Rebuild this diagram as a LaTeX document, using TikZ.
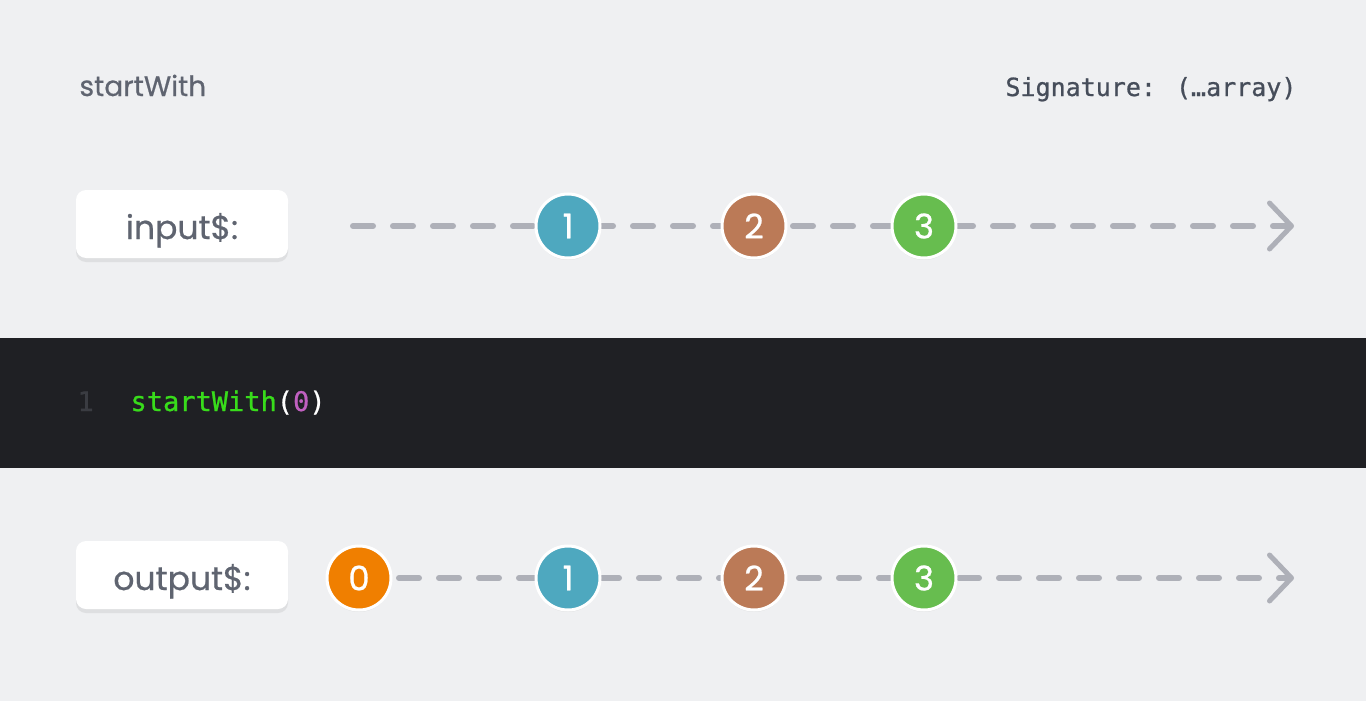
\documentclass[tikz,border=0pt]{standalone}
\usepackage{fontspec}
\usetikzlibrary{arrows.meta,shadows,backgrounds}
\newfontfamily\marblefont{Poppins}[FakeBold=0.6]
\newfontfamily\codefont{DejaVu Sans Mono}[FakeBold=0.8]
\definecolor{pagegray}{HTML}{EFF0F2}
\definecolor{bandblack}{HTML}{1F2024}
\definecolor{titlegray}{HTML}{5F6470}
\definecolor{signgray}{HTML}{464D5A}
\definecolor{linegray}{HTML}{AEB0B8}
\definecolor{marbleblue}{HTML}{4EA8BF}
\definecolor{marblebrown}{HTML}{BB7A57}
\definecolor{marblegreen}{HTML}{67BD4F}
\definecolor{marbleorange}{HTML}{F07F00}
\definecolor{codegreen}{HTML}{38DC1B}
\definecolor{codepink}{HTML}{C060C0}
\definecolor{codenum}{HTML}{3A3C42}
\pgfdeclarelayer{streams}
\pgfsetlayers{background,streams,main}
\newcommand\titlestyle{\marblefont\fontsize{28}{28}\selectfont}
\newcommand\codestyle{\codefont\fontsize{27}{27}\selectfont}
\tikzset{
  marble/.style={circle, minimum size=64pt, inner sep=0pt, draw=white, line width=3pt,
    text=white, font=\marblefont\fontsize{34}{34}\selectfont,
    drop shadow={shadow xshift=0pt, shadow yshift=-2pt, opacity=.12}},
  streamlabel/.style={rounded corners=10pt, fill=white, minimum width=212pt, minimum height=68pt,
    text height=30pt, text depth=0pt,
    text=titlegray, font=\marblefont\fontsize{33}{33}\selectfont,
    drop shadow={shadow xshift=0pt, shadow yshift=-4pt, opacity=.15}},
  streamline/.style={line width=6pt, linegray, line cap=round, dash pattern=on 20pt off 20pt},
  streamtip/.style={-{Straight Barb[length=22pt, width=46pt, line width=5pt, round]}}
}
\newcommand\marble[4]{
  \node[marble, fill=#3] (#1) at (#2) {#4};
}

\begin{document}
\begin{tikzpicture}[x=1pt, y=-1pt]
  \useasboundingbox (0,0) rectangle (1366,701);
  \begin{pgfonlayer}{background}
    \fill[pagegray] (0,0) rectangle (1366,701);
    \fill[bandblack] (0,338) rectangle (1366,468);
  \end{pgfonlayer}
  \node[anchor=base west, text=titlegray, font=\titlestyle] (title) at (76,96) {startWith};
  \node[anchor=base east, text=signgray, font=\codefont\fontsize{25}{25}\selectfont] (signature) at (1300,96) {Signature: (…array)};
  \node[streamlabel] (inlabel) at (182,224) {input\$:};
  \node[streamlabel] (outlabel) at (182,575) {output\$:};
  \marble{in1}{568,226}{marbleblue}{1}
  \marble{in2}{754,226}{marblebrown}{2}
  \marble{in3}{924,226}{marblegreen}{3}
  \marble{out0}{359,578}{marbleorange}{0}
  \marble{out1}{568,578}{marbleblue}{1}
  \marble{out2}{754,578}{marblebrown}{2}
  \marble{out3}{924,578}{marblegreen}{3}
  \coordinate (instart) at (353,226);
  \coordinate (inend) at (1294,226);
  \coordinate (outend) at (1294,578);
  \begin{pgfonlayer}{streams}
    \draw (instart)[streamline, streamtip] -- (in1.center) -- (in2.center) -- (in3.center) -- (inend);
    \draw (out0.center)[streamline, streamtip] -- (out1.center) -- (out2.center) -- (out3.center) -- (outend);
  \end{pgfonlayer}
  \node[anchor=base west, text=codenum, font=\codestyle] (codeline) at (74,411) {1};
  \node[anchor=base west, font=\codestyle] (codetext) at (127,411)
    {\textcolor{codegreen}{startWith}\textcolor{white}{(}\textcolor{codepink}{0}\textcolor{white}{)}};
\end{tikzpicture}
\end{document}
